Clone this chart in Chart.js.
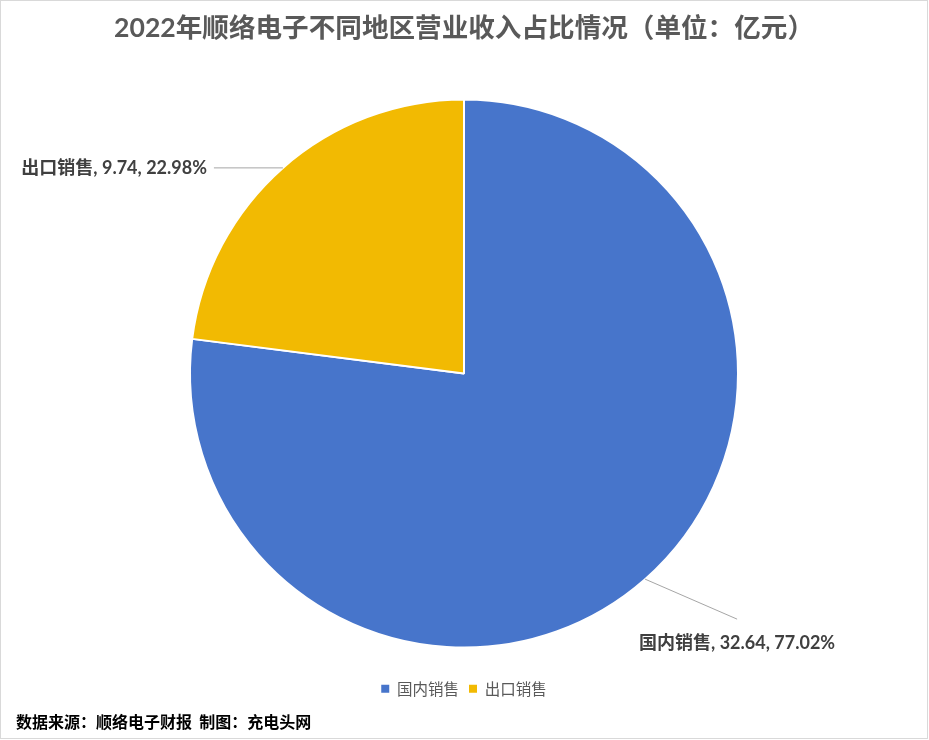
<!DOCTYPE html>
<html>
<head>
<meta charset="utf-8">
<script src="https://cdn.jsdelivr.net/npm/chart.js@4.4.1/dist/chart.umd.min.js"></script>
<style>
  html, body { margin: 0; padding: 0; background: #ffffff; }
  #wrap { width: 929px; height: 740px; position: relative; }
  canvas { display: block; }
</style>
</head>
<body>
<div id="wrap"><canvas id="c" width="929" height="740"></canvas></div>
<script>
// ---- data ----
const categories = ['国内销售', '出口销售'];
const revenue = [32.64, 9.74];          // 亿元
const shares = ['77.02%', '22.98%'];
const sliceColors = ['#4775CB', '#F2BA02'];
const titleText = '2022年顺络电子不同地区营业收入占比情况（单位：亿元）';
const sourceText = '数据来源：顺络电子财报  制图：充电头网';

const FONT = "Lato, 'Noto Sans CJK SC', sans-serif";

// leader-line style per slice (offset from the slice's outer edge at its mid angle)
const leaderStyle = [
  { dx: 92, dy: 40, place: 'below' },
  { dx: -69, dy: 0, place: 'left' }
];

const borderPlugin = {
  id: 'frame',
  beforeDraw(chart) {
    const ctx = chart.ctx;
    ctx.save();
    ctx.fillStyle = '#ffffff';
    ctx.fillRect(0, 0, chart.width, chart.height);
    ctx.strokeStyle = '#d9d9d9';
    ctx.lineWidth = 1;
    ctx.strokeRect(0.5, 0.5, 927, 738);
    ctx.restore();
  }
};

const labelPlugin = {
  id: 'pieLabels',
  afterDatasetsDraw(chart) {
    const ctx = chart.ctx;
    const meta = chart.getDatasetMeta(0);
    ctx.save();
    meta.data.forEach((arc, i) => {
      const p = arc.getProps(['x', 'y', 'startAngle', 'endAngle', 'outerRadius'], true);
      const mid = (p.startAngle + p.endAngle) / 2;
      const ex = p.x + Math.cos(mid) * p.outerRadius;
      const ey = p.y + Math.sin(mid) * p.outerRadius;
      const st = leaderStyle[i];
      const lx = ex + st.dx, ly = ey + st.dy;
      ctx.strokeStyle = '#a6a6a6';
      ctx.lineWidth = 1;
      ctx.beginPath();
      ctx.moveTo(ex, ey);
      ctx.lineTo(lx, ly);
      ctx.stroke();
      const txt = categories[i] + ', ' + revenue[i].toFixed(2) + ', ' + shares[i];
      ctx.fillStyle = '#404040';
      ctx.font = "bold 18px " + FONT;
      if (st.place === 'below') {
        ctx.textAlign = 'center';
        ctx.textBaseline = 'middle';
        ctx.fillText(txt, lx, ly + 24);
      } else {
        ctx.textAlign = 'right';
        ctx.textBaseline = 'middle';
        ctx.fillText(txt, lx - 7, ly);
      }
    });
    ctx.restore();
  }
};

new Chart(document.getElementById('c'), {
  type: 'pie',
  data: {
    labels: categories,
    datasets: [{
      data: revenue,
      backgroundColor: sliceColors,
      borderColor: '#ffffff',
      borderWidth: 2
    }]
  },
  options: {
    responsive: false,
    devicePixelRatio: 1,
    animation: false,
    radius: 274,
    layout: { padding: { left: 16, right: 17, top: 0, bottom: 0 } },
    plugins: {
      tooltip: { enabled: false },
      title: {
        display: true,
        text: titleText,
        color: '#595959',
        font: { family: FONT, size: 26.6, weight: 'bold' },
        padding: { top: 12.6, bottom: 31.5 }
      },
      subtitle: {
        display: true,
        text: sourceText,
        position: 'bottom',
        align: 'start',
        color: '#000000',
        font: { family: "'Noto Sans CJK SC', sans-serif", size: 16, weight: 'bold' },
        padding: { top: 5.9, bottom: 8.4 }
      },
      legend: {
        display: true,
        position: 'bottom',
        labels: {
          boxWidth: 8,
          boxHeight: 8,
          padding: 10,
          color: '#595959',
          font: { family: "'Noto Sans CJK SC', sans-serif", size: 15.5 },
          generateLabels(chart) {
            return Chart.overrides.pie.plugins.legend.labels.generateLabels(chart)
              .map(l => Object.assign(l, { lineWidth: 0, strokeStyle: l.fillStyle }));
          }
        }
      }
    }
  },
  plugins: [borderPlugin, labelPlugin]
});
</script>
</body>
</html>
